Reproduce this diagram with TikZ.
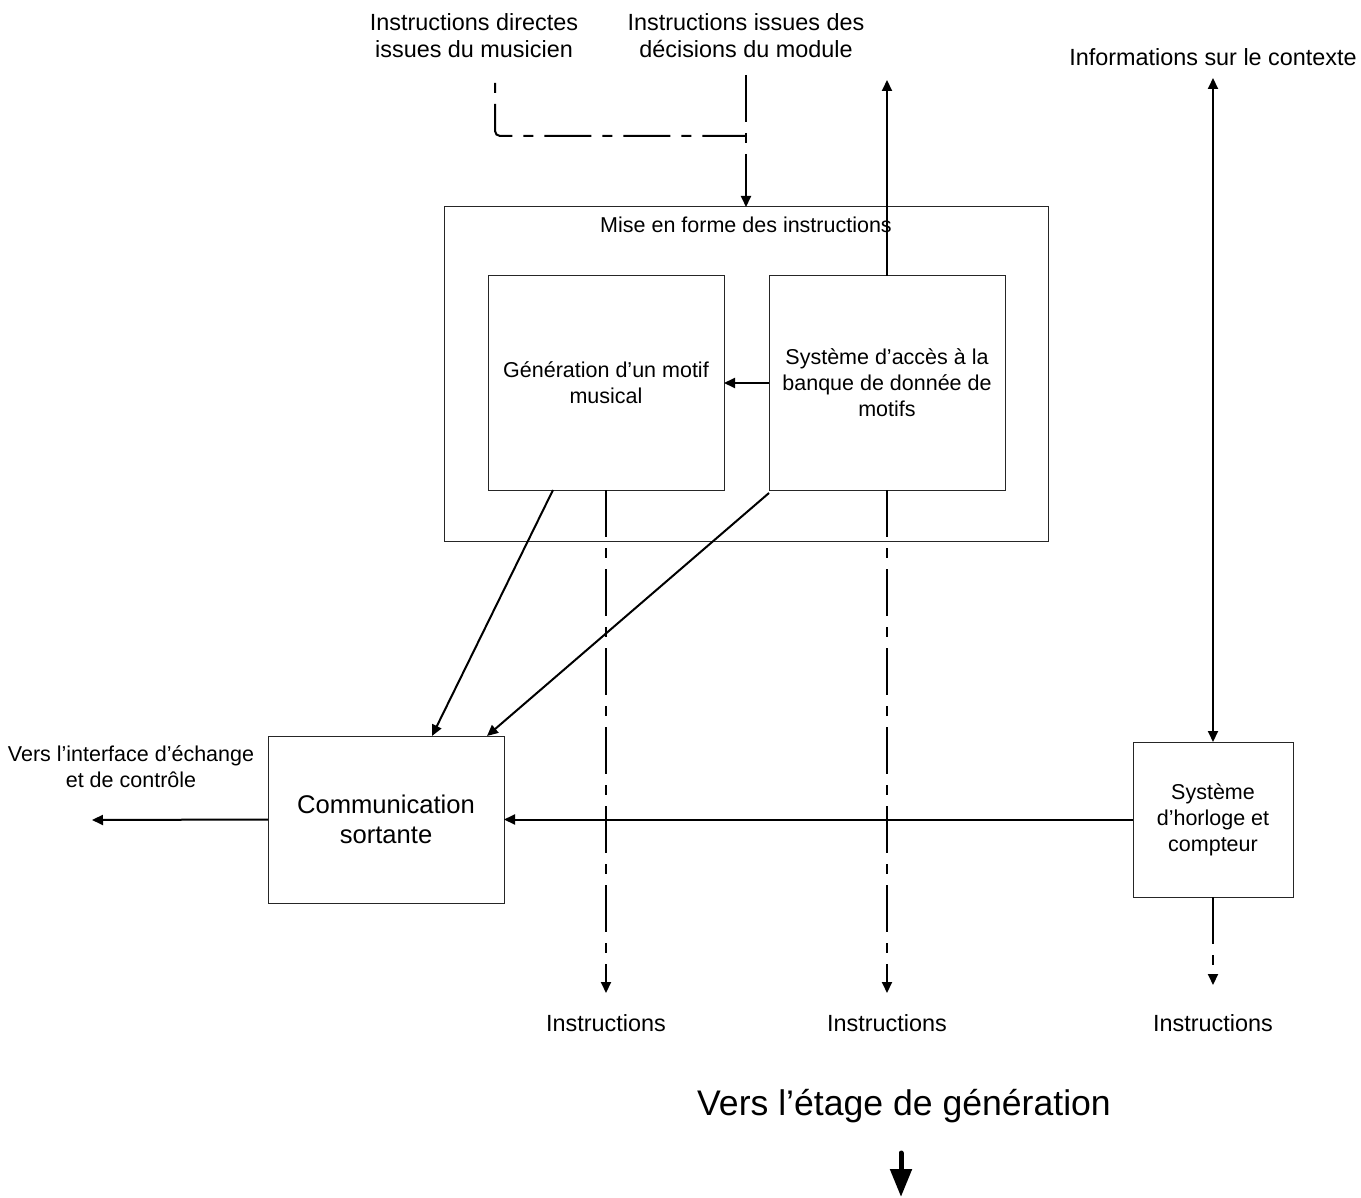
\documentclass[tikz,border=0pt]{standalone}
\usepackage{fontspec}
\setmainfont{Liberation Sans}
\usetikzlibrary{arrows.meta}
\tikzset{
  box/.style={draw=black!85, line width=1pt, inner sep=0pt, outer sep=0pt, align=center, fill=none},
  txtA/.style={font=\fontsize{23.4}{27}\selectfont, align=center, inner sep=0pt},
  txtB/.style={font=\fontsize{21.5}{26}\selectfont, align=center, inner sep=0pt},
  conn/.style={line width=2pt},
  arr/.style={conn, -{Triangle[length=11pt,width=10pt]}},
  darr/.style={conn, {Triangle[length=11pt,width=10pt]}-{Triangle[length=11pt,width=10pt]}},
  dashpat/.style={dash pattern=on 47pt off 11pt on 10pt off 11pt},
}
\begin{document}
\begin{tikzpicture}[x=1pt,y=-1pt]
\useasboundingbox (0,0) rectangle (1361,1198);

% top labels
\node[txtA] (tl1) at (474,36) {Instructions directes\\issues du musicien};
\node[txtA] (tl2) at (746,36) {Instructions issues des\\décisions du module};
\node[txtA] (ctxt) at (1213,57) {Informations sur le contexte};

% boxes
\node[box, anchor=north west, minimum width=604pt, minimum height=334pt] (outer) at (444,207) {};
\node[txtB] (outert) at (746,225) {Mise en forme des instructions};
\node[box, txtB, anchor=north west, minimum width=236pt, minimum height=214pt] (gen) at (488,276) {Génération d’un motif\\musical};
\node[box, txtB, anchor=north west, minimum width=236pt, minimum height=214pt] (acc) at (769,276) {Système d’accès à la\\banque de donnée de\\motifs};
\node[box, anchor=north west, minimum width=236pt, minimum height=167pt, font=\fontsize{25.6}{30}\selectfont] (comm) at (268,736) {Communication\\sortante};
\node[box, txtB, anchor=north west, minimum width=160pt, minimum height=155pt] (hor) at (1133,742) {Système\\d’horloge et\\compteur};

% other labels
\node[txtB] (vers) at (131,767) {Vers l’interface d’échange\\et de contrôle};
\node[txtA] (ins1) at (606,1023) {Instructions};
\node[txtA] (ins2) at (887,1023) {Instructions};
\node[txtA] (ins3) at (1213,1023) {Instructions};
\node[font=\fontsize{35.6}{40}\selectfont, inner sep=0pt] (etage) at (904,1106) {Vers l’étage de génération};

% coordinates
\coordinate (musA) at (495,83);
\coordinate (modA) at (746,75);
\coordinate (join) at (746,136);
\coordinate (up) at (887,80);
\coordinate (ctx) at (1213,78);
\coordinate (d1) at (606,993);
\coordinate (d2) at (887,993);
\coordinate (d3) at (1213,985);
\coordinate (left) at (92,820);
\coordinate (bigA) at (901,1153);
\coordinate (bigB) at (901,1197);

% connectors
\draw[conn, dashpat, dash phase=58pt, rounded corners=5pt] (musA) |- (join);
\draw[arr, dashpat] (modA) -- (outer.north);
\draw[arr] (acc.north) -- (up);
\draw[darr] (ctx) -- (hor.north);
\draw[arr] (acc.west) -- (gen.east);
\draw[arr] ([xshift=65pt]gen.south west) -- ([xshift=164pt]comm.north west);
\draw[arr] ([yshift=-3pt]acc.south west) -- ([xshift=219pt]comm.north west);
\draw[arr, dashpat] (gen.south) -- (d1);
\draw[arr, dashpat] (acc.south) -- (d2);
\draw[arr, dashpat] (hor.south) -- (d3);
\draw[arr] (hor.west) -- (comm.east);
\draw[arr] (comm.west) -- (left);
\draw[line width=5pt, line cap=round, -{Triangle[length=28pt,width=21pt]}] (bigA) -- (bigB);
\end{tikzpicture}
\end{document}
